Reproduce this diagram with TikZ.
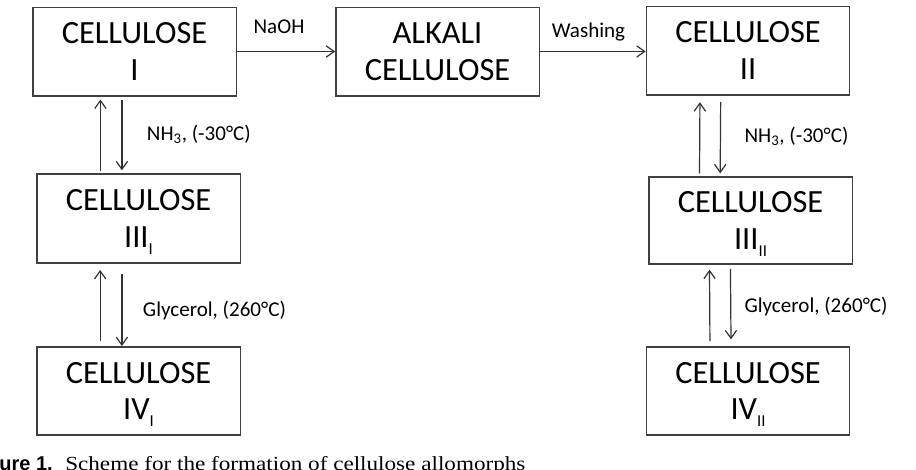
\documentclass[tikz,border=0pt]{standalone}
\usepackage{fontspec}
\usepackage{graphicx}
\setmainfont{Carlito}
\newfontfamily\capserif{Liberation Serif}
\newfontfamily\capsans{Liberation Sans}
\usetikzlibrary{arrows.meta}
\newcommand\boxsub[1]{\raisebox{-5pt}[0pt][0pt]{\fontsize{12.5}{12.5}\selectfont #1}}
\begin{document}
\begin{tikzpicture}[x=0.75pt,y=-0.75pt,
  box/.style={draw=black!75,line width=1pt,align=center,inner sep=0pt,
    font=\fontsize{24.3}{27.5}\selectfont,minimum width=152.5pt,minimum height=66.5pt},
  arr/.style={draw=black!80,line width=0.9pt,-{Straight Barb[length=6pt,width=8.5pt]}},
  lbl/.style={font=\fontsize{15.8}{18}\selectfont,inner sep=0pt}]
\useasboundingbox (0,0) rectangle (916,469);
% boxes
\node[box] (c1)  at (134.5,51.5) {CELLULOSE\\I};
\node[box] (alk) at (437.5,51.5) {ALKALI\\CELLULOSE};
\node[box] (c2)  at (748,50.5)   {CELLULOSE\\II};
\node[box,minimum height=66.75pt] (c3a) at (138.5,218.5) {CELLULOSE\\III\boxsub{I}};
\node[box,minimum height=66pt] (c4a) at (138.5,391) {CELLULOSE\\IV\boxsub{I}};
\node[box,minimum height=65.25pt] (c3b) at (750.5,220.5) {CELLULOSE\\III\boxsub{II}};
\node[box,minimum height=66pt] (c4b) at (748,391) {CELLULOSE\\IV\boxsub{II}};
% horizontal arrows
\draw[arr] (c1.east) -- (alk.west);
\draw[arr] (alk.east) -- (alk.east -| c2.west);
\node[lbl,anchor=base] (lnaoh) at (279,33.3) {NaOH};
\node[lbl,anchor=base] (lwash) at (588.5,37.3) {Washing};
% left column
\draw[arr] ([xshift=48.2pt,yshift=1.5pt]c3a.north west) -- ([xshift=51.2pt,yshift=-2.25pt]c1.south west);
\draw[arr] ([xshift=67.3pt,yshift=-2.25pt]c1.south west) -- ([xshift=64.3pt,yshift=2.25pt]c3a.north west);
\draw[arr] ([xshift=48pt,yshift=4pt]c4a.north west) -- ([xshift=48pt,yshift=-4.7pt]c3a.south west);
\draw[arr] ([xshift=64.3pt,yshift=-7.5pt]c3a.south west) -- ([xshift=64.3pt,yshift=0.2pt]c4a.north west);
\node[lbl,anchor=base west] (lnh3a) at (146.7,140.7) {NH\textsubscript{3}, (-30°C)};
\node[lbl,anchor=base west] (lglya) at (142.7,316) {Glycerol, (260°C)};
% right column
\draw[arr] ([xshift=38.5pt,yshift=2.25pt]c3b.north west) -- ([xshift=40.7pt,yshift=-5pt]c2.south west);
\draw[arr] ([xshift=56.25pt,yshift=-5pt]c2.south west) -- ([xshift=54pt,yshift=2.25pt]c3b.north west);
\draw[arr] ([xshift=48.2pt,yshift=4pt]c4b.north west) -- ([xshift=46pt,yshift=-3.75pt]c3b.south west);
\draw[arr] ([xshift=61.7pt,yshift=-3.2pt]c3b.south west) -- ([xshift=64pt,yshift=5.25pt]c4b.north west);
\node[lbl,anchor=base west] (lnh3b) at (744.3,142.7) {NH\textsubscript{3}, (-30°C)};
\node[lbl,anchor=base west] (lglyb) at (744.3,312.7) {Glycerol, (260°C)};
% caption (cut by the page edge, as in the reference)
\node[anchor=base east,inner sep=0pt,font=\capsans\bfseries\fontsize{15}{18}\selectfont] (figno) at (53,470) {Figure 1.};
\node[anchor=base west,inner sep=0pt,font=\capserif\fontsize{15}{18}\selectfont] (cap) at (65,470) {\scalebox{1.157}[1]{Scheme for the formation of cellulose allomorphs}};
\end{tikzpicture}
\end{document}
